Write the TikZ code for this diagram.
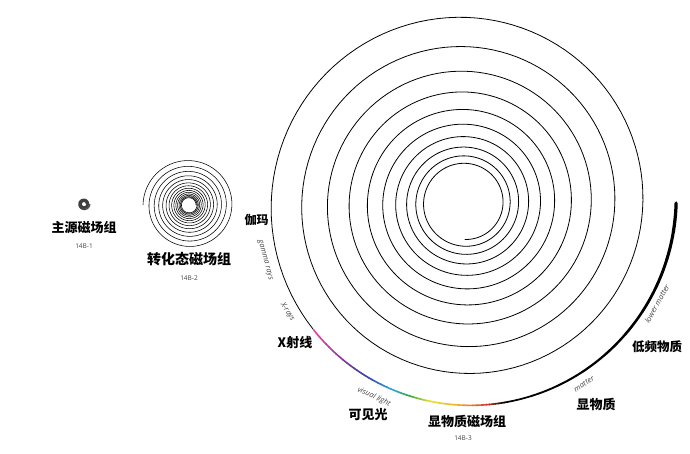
\documentclass[tikz,border=0pt]{standalone}
\usepackage{fontspec}
\setmainfont{Open Sans}
\newfontfamily\cjk{Noto Sans CJK SC}
\definecolor{rbA}{HTML}{E8479B}
\definecolor{rbB}{HTML}{B03C9E}
\definecolor{rbC}{HTML}{5A3A9A}
\definecolor{rbD}{HTML}{3A4AB0}
\definecolor{rbE}{HTML}{2EA8DC}
\definecolor{rbF}{HTML}{34A844}
\definecolor{rbG}{HTML}{E6E230}
\definecolor{rbH}{HTML}{F2B028}
\definecolor{rbI}{HTML}{E0402A}
\definecolor{rbJ}{HTML}{000000}
\definecolor{labgray}{HTML}{444444}
\begin{document}
\begin{tikzpicture}[x=1pt,y=1pt,
  spiral/.style={line width=0.8pt, line join=round, line cap=round},
  title/.style={font=\cjk\bfseries\fontsize{13}{15}\selectfont, inner sep=0pt},
  code/.style={font=\fontsize{6.5}{8}\selectfont, text=labgray, inner sep=0pt},
  band/.style={font=\itshape\fontsize{7.5}{9}\selectfont, text=labgray, inner sep=0pt}]
\useasboundingbox (0,0) rectangle (690,-453);
% small source spiral
\draw[line width=0.9pt, black!75] plot[domain=0:1440, samples=240, variable=\t]
  ({84+2.2*exp(1.0*\t/1440)*cos(\t)}, {-204+2.2*exp(1.0*\t/1440)*sin(\t)});
% middle spiral
\draw[line width=0.55pt, line join=round] plot[domain=0:4860, samples=1400, variable=\t]
  ({189+7*exp(1.8827*\t/4860)*cos(\t)}, {-205+7*exp(1.8827*\t/4860)*sin(\t)});
% big spiral (thin part)
\draw[spiral] plot[domain=-90:3459.8, samples=1200, variable=\t]
  ({465+39.7*exp(0.1714*(\t-90)/360)*cos(\t)}, {-203+39.7*exp(0.1714*(\t-90)/360)*sin(\t)});
% rainbow part
\foreach \a/\b/\ca/\cb in {219.8/228/rbA/rbB, 228/236/rbB/rbC, 236/242/rbC/rbD, 242/248/rbD/rbE,
   248/254/rbE/rbF, 254/260/rbF/rbG, 260/268/rbG/rbH, 268/276/rbH/rbI, 276/281/rbI/rbJ}{
  \foreach \i in {0,...,5}{
    \pgfmathsetmacro\ta{3240+\a+(\b-\a)*\i/6}
    \pgfmathsetmacro\tb{3240+\a+(\b-\a)*(\i+1)/6+0.2}
    \pgfmathtruncatemacro\p{100-100*(\i+0.5)/6}
    \draw[line width=1.6pt, color=\ca!\p!\cb] plot[domain=\ta:\tb, samples=4, variable=\t]
      ({465+39.7*exp(0.1714*(\t-90)/360)*cos(\t)}, {-203+39.7*exp(0.1714*(\t-90)/360)*sin(\t)});
  }
}
% thick black tail
\foreach \i in {0,...,9}{
  \pgfmathsetmacro\ta{3521+7.9*\i}
  \pgfmathsetmacro\tb{3521+7.9*(\i+1)}
  \pgfmathsetmacro\w{1.7+0.17*\i}
  \draw[line width=\w pt, line cap=round] plot[domain=\ta:\tb, samples=6, variable=\t]
    ({465+39.7*exp(0.1714*(\t-90)/360)*cos(\t)}, {-203+39.7*exp(0.1714*(\t-90)/360)*sin(\t)});
}
% labels
\node[title] (t1) at (84,-227.5) {主源磁场组};
\node[code] (c1) at (84,-246) {14B-1};
\node[title, font=\cjk\bfseries\fontsize{14}{16}\selectfont] (t2) at (189,-259) {转化态磁场组};
\node[code] (c2) at (189,-278.5) {14B-2};
\node[title, font=\cjk\bfseries\fontsize{12}{14}\selectfont] (t3) at (256.5,-219.5) {伽玛};
\node[title] (t4) at (295,-343) {X射线};
\node[title] (t5) at (368,-415) {可见光};
\node[title] (t6) at (467,-421.5) {显物质磁场组};
\node[code] (c6) at (463,-438.5) {14B-3};
\node[title] (t7) at (596,-404) {显物质};
\node[title, font=\cjk\bfseries\fontsize{12.5}{14}\selectfont] (t8) at (657,-347) {低频物质};
\node[band, rotate=-75] (b1) at (265,-260) {gamma rays};
\node[band, rotate=-58] (b2) at (287.5,-312) {X-rays};
\node[band, rotate=-25] (b3) at (374,-397) {visual light};
\node[band, rotate=33] (b4) at (584,-384) {matter};
\node[band, rotate=61] (b5) at (657,-304) {lower matter};
\end{tikzpicture}
\end{document}
